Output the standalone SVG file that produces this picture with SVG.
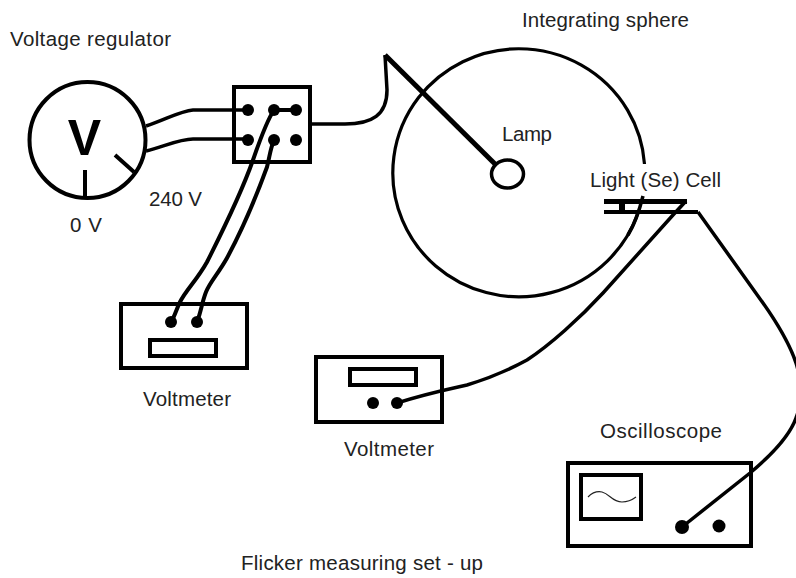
<svg xmlns="http://www.w3.org/2000/svg" width="796" height="578" viewBox="0 0 796 578">
<style>
text{font-family:"Liberation Sans",Arial,sans-serif;font-size:20.5px;fill:#222}
.o{fill:none;stroke:#000;stroke-width:3.5;stroke-linejoin:round}
.w{fill:none;stroke:#000;stroke-width:4}
.box{fill:#fff;stroke:#000;stroke-width:4}
.d{fill:#000}
</style>
<rect width="796" height="578" fill="#fff"/>
<g id="sphere"><path class="o" d="M644.5 164A126 124 0 1 0 638 213" style="stroke-width:3.2"/>
<text x="522" y="27" textLength="167" id="sphere-label">Integrating sphere</text></g>
<g id="regulator">
<circle class="o" cx="87.5" cy="140" r="58" style="stroke-width:4"/>
<text x="84.5" y="155" text-anchor="middle" style="font-size:50px;font-weight:700;fill:#000">V</text>
<path class="w" d="M85 170V198M115 155L134 172"/>
<text x="10" y="46" textLength="161">Voltage regulator</text>
<text x="149" y="206" textLength="53">240 V</text>
<text x="70" y="232" textLength="32">0 V</text>
</g>
<g id="switch-box">
<rect class="box" x="234" y="87" width="76" height="75"/>
<circle class="d" cx="248" cy="110" r="6"/><circle class="d" cx="274" cy="110" r="6"/><circle class="d" cx="296" cy="110" r="6"/>
<circle class="d" cx="248" cy="140" r="6"/><circle class="d" cx="274" cy="140" r="6"/><circle class="d" cx="296" cy="140" r="6"/>
</g>
<g id="voltmeter-1">
<rect class="box" x="121" y="304" width="126" height="64"/>
<rect class="box" x="150" y="340" width="66" height="16"/>
<circle class="d" cx="171" cy="322" r="6"/><circle class="d" cx="197" cy="322" r="6"/>
<text x="143" y="406" textLength="88">Voltmeter</text>
</g>
<g id="voltmeter-2">
<rect class="box" x="316" y="357" width="126" height="65"/>
<rect class="box" x="350" y="369" width="66" height="16"/>
<circle class="d" cx="373" cy="403" r="6"/><circle class="d" cx="397" cy="403" r="6"/>
<text x="344" y="456" textLength="90">Voltmeter</text>
</g>
<g id="oscilloscope">
<rect class="box" x="568" y="463" width="183" height="83"/>
<rect class="box" x="581" y="475" width="60" height="44"/>
<path d="M588 497C592 493 597 491 602 492C610 494 612 502 622 502C628 502 632 500 636 497" fill="none" stroke="#222" stroke-width="1.2"/>
<circle class="d" cx="682" cy="527" r="7"/><circle class="d" cx="719" cy="526" r="6.500"/>
<text x="600" y="438" textLength="122">Oscilloscope</text>
</g>
<g id="lamp">
<ellipse class="o" cx="507.5" cy="174" rx="16" ry="14"/>
<text x="502" y="141" textLength="50">Lamp</text>
</g>
<g id="cell">
<text x="590" y="187" textLength="131">Light (Se) Cell</text>
<path d="M604 201.500H687" fill="none" stroke="#000" stroke-width="5"/>
<path class="w" d="M604 212H698"/>
<path d="M622 202V212" fill="none" stroke="#000" stroke-width="6"/>
</g>
<g id="connectors">
<path class="o" d="M146 126C165 120 180 111 193 110H248M146 151C165 146 180 139 193 139H248"/>
<path class="w" d="M274 110H296"/>
<path class="w" d="M274 110C266 122 260 140 253 160C240 197 222 232 207 262C197 280 186 290 180 302C176 310 175 316 171 322"/>
<path class="w" d="M274 140C270 150 270 155 267 167C255 200 241 232 227 258C218 274 210 282 206 292C202 302 201 312 197 322"/>
<path class="o" d="M312 124H345C372 124 387 115 387 90L385 55"/>
<path d="M385 55L495 164" fill="none" stroke="#000" stroke-width="5"/>
<path class="o" d="M643 196C640 208 636 222 628 235"/>
<path class="o" d="M397 403C425 394 440 391 467 385C490 378 505 372 527 360C550 345 580 318 603 293L673 215L686 201"/>
<path class="o" d="M698 212L763 303C775 320 790 345 796 363C803 385 803 400 796 418C790 435 775 452 750 473L682 527"/>
</g>
<text x="241" y="570" textLength="242" id="caption">Flicker measuring set - up</text>
</svg>
